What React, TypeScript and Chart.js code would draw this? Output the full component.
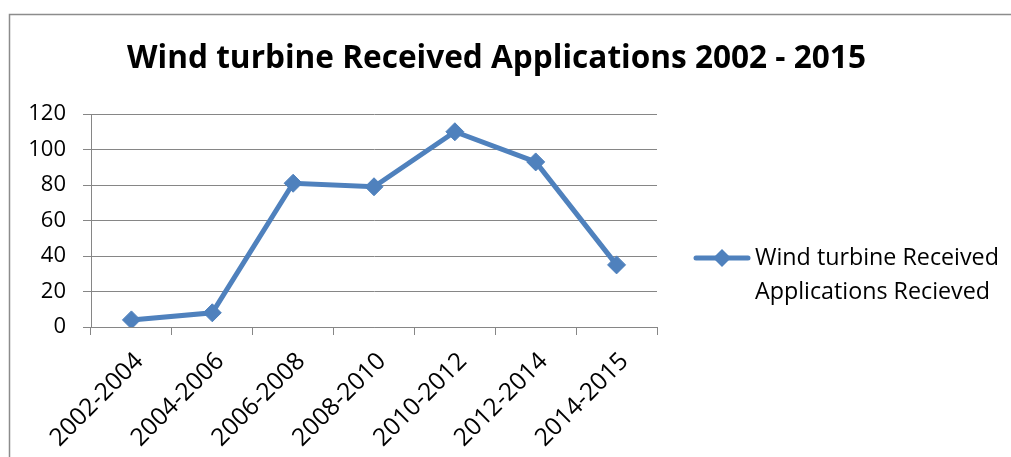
import React, { useEffect, useRef } from "react";
import { Chart, registerables } from "chart.js";

Chart.register(...registerables);

const categories = ["2002-2004", "2004-2006", "2006-2008", "2008-2010", "2010-2012", "2012-2014", "2014-2015"];
const values = [4, 8, 81, 79, 110, 93, 35];
const yMin = 0;
const yMax = 120;
const yStep = 20;
const titleText = "Wind turbine Received Applications 2002 - 2015";
const legendLines = ["Wind turbine Received", "Applications Recieved"];

const FONT = "'Open Sans', Lato, sans-serif";
const BLUE = "#4F81BD";
const GRID = "#868686";

function fitFont(ctx: CanvasRenderingContext2D, text: string, weight: string, target: number) {
  ctx.font = `${weight} 20px ${FONT}`;
  const w = ctx.measureText(text).width;
  const size = (20 * target) / w;
  ctx.font = `${weight} ${size}px ${FONT}`;
}

const decorPlugin = {
  id: "decor",
  beforeDraw(chart: any) {
    const ctx = chart.ctx;
    ctx.save();
    ctx.fillStyle = "#ffffff";
    ctx.fillRect(0, 0, chart.width, chart.height);
    ctx.strokeStyle = "#8c8c8c";
    ctx.lineWidth = 1.5;
    ctx.beginPath();
    ctx.moveTo(9.5, chart.height + 5);
    ctx.lineTo(9.5, 14.5);
    ctx.lineTo(chart.width + 5, 14.5);
    ctx.stroke();
    ctx.restore();
  },
  afterDraw(chart: any) {
    const ctx = chart.ctx;
    ctx.save();
    // title
    ctx.fillStyle = "#000";
    fitFont(ctx, titleText, "bold", 739);
    ctx.textAlign = "center";
    ctx.textBaseline = "alphabetic";
    ctx.fillText(titleText, 496.5, 68);
    // legend
    const ly = 258;
    ctx.strokeStyle = BLUE;
    ctx.lineWidth = 5;
    ctx.lineCap = "round";
    ctx.beginPath();
    ctx.moveTo(696, ly);
    ctx.lineTo(748, ly);
    ctx.stroke();
    ctx.fillStyle = BLUE;
    ctx.beginPath();
    const r = 9;
    ctx.moveTo(722, ly - r);
    ctx.lineTo(722 + r, ly);
    ctx.lineTo(722, ly + r);
    ctx.lineTo(722 - r, ly);
    ctx.closePath();
    ctx.fill();
    ctx.fillStyle = "#000";
    fitFont(ctx, legendLines[0], "normal", 244);
    ctx.textAlign = "left";
    ctx.textBaseline = "middle";
    ctx.fillText(legendLines[0], 755, ly);
    ctx.fillText(legendLines[1], 755, ly + 34);
    ctx.restore();
  },
};

export default function App() {
  const ref = useRef<HTMLCanvasElement | null>(null);
  useEffect(() => {
    if (!ref.current) return;
    const chart = new Chart(ref.current, {
      type: "line",
      data: {
        labels: categories,
        datasets: [
          {
            label: legendLines.join(" "),
            data: values,
            borderColor: BLUE,
            backgroundColor: BLUE,
            borderWidth: 5,
            pointStyle: "rectRot",
            pointRadius: 9,
            pointHoverRadius: 9,
            pointBackgroundColor: BLUE,
            pointBorderColor: BLUE,
            pointBorderWidth: 1,
            tension: 0,
          },
        ],
      },
      options: {
        responsive: false,
        animation: false,
        events: [],
        layout: { padding: { left: 10, right: 354, top: 114, bottom: 0 } },
        plugins: {
          legend: { display: false },
          title: { display: false },
          tooltip: { enabled: false },
        },
        scales: {
          x: {
            type: "category",
            offset: true,
            afterFit(scale: any) {
              scale.height = 130;
            },
            grid: {
              offset: true,
              drawOnChartArea: false,
              drawTicks: true,
              tickLength: 8,
              color: GRID,
              lineWidth: 1,
            },
            border: { display: true, color: GRID, width: 1 },
            ticks: {
              autoSkip: false,
              minRotation: 45,
              maxRotation: 45,
              padding: 12,
              labelOffset: 8,
              color: "#000",
              font: { family: FONT, size: 24.5 },
            },
          },
          y: {
            min: yMin,
            max: yMax,
            afterFit(scale: any) {
              scale.width = 81;
            },
            grid: {
              color: GRID,
              lineWidth: 1,
              drawTicks: true,
              tickLength: 8,
            },
            border: { display: true, color: GRID, width: 1 },
            ticks: {
              stepSize: yStep,
              padding: 17,
              color: "#000",
              font: { family: FONT, size: 22 },
            },
          },
        },
      },
      plugins: [decorPlugin],
    });
    return () => chart.destroy();
  }, []);
  return (
    <div style={{ position: "fixed", left: 0, top: 0, width: 1011, height: 457 }}>
      <canvas ref={ref} width={1011} height={457} style={{ display: "block" }} />
    </div>
  );
}
